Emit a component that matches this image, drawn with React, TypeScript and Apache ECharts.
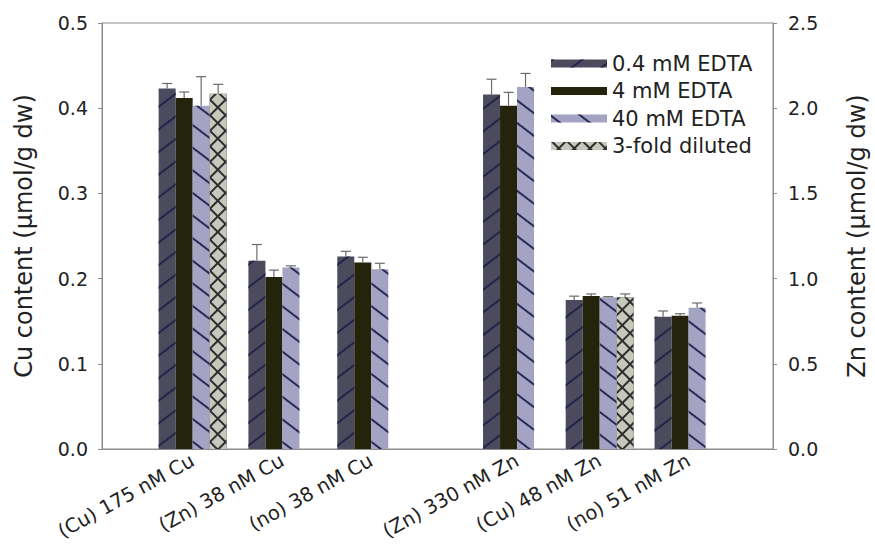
import React, { useEffect, useRef } from "react";
import * as echarts from "echarts";

// ---- data ----
const seriesNames = ["0.4 mM EDTA", "4 mM EDTA", "40 mM EDTA", "3-fold diluted"];

const cuCategories = ["(Cu) 175 nM Cu", "(Zn) 38 nM Cu", "(no) 38 nM Cu"];
const znCategories = ["(Zn) 330 nM Zn", "(Cu) 48 nM Zn", "(no) 51 nM Zn"];
// category positions along the x scale (gap between the Cu and Zn blocks)
const cuPositions = [1.02, 2.03, 3.03];
const znPositions = [4.67, 5.6, 6.6];

// Cu content (µmol/g dw), left axis
const cuEdta04 = [0.423, 0.221, 0.226];
const cuEdta4 = [0.412, 0.202, 0.219];
const cuEdta40 = [0.403, 0.213, 0.211];
const cuDiluted = [0.417, null, null];
const cuEdta04Err = [0.006, 0.019, 0.006];
const cuEdta4Err = [0.007, 0.008, 0.006];
const cuEdta40Err = [0.034, 0.002, 0.007];
const cuDilutedErr = [0.011, null, null];

// Zn content (µmol/g dw), right axis
const znEdta04 = [2.08, 0.875, 0.776];
const znEdta4 = [2.015, 0.898, 0.782];
const znEdta40 = [2.124, 0.89, 0.829];
const znDiluted = [null, 0.89, null];
const znEdta04Err = [0.09, 0.022, 0.034];
const znEdta4Err = [0.078, 0.012, 0.012];
const znEdta40Err = [0.08, 0.004, 0.028];
const znDilutedErr = [null, 0.02, null];

const cuTicks = { min: 0, max: 0.5, interval: 0.1 };
const znTicks = { min: 0, max: 2.5, interval: 0.5 };

// ---- styling ----
const FONT = "DejaVu Sans";
const BAR_W = 17;
const fills = ["#4c4b5e", "#24230c", "#a4a3c3", "#2e2e2e"];
const decals: any[] = [
  { symbol: "rect", symbolSize: 1, dashArrayX: [1, 0], dashArrayY: [1.5, 16], rotation: -0.65, color: "#23234a" },
  null,
  { symbol: "rect", symbolSize: 1, dashArrayX: [1, 0], dashArrayY: [1.5, 16], rotation: 0.65, color: "#2a2a58" },
  { symbol: "rect", symbolSize: 1, dashArrayX: [8.8, 1.2], dashArrayY: [8.8, 1.2], rotation: Math.PI / 4, color: "#c5c8bb" },
];

const cuValues = [cuEdta04, cuEdta4, cuEdta40, cuDiluted];
const cuErrors = [cuEdta04Err, cuEdta4Err, cuEdta40Err, cuDilutedErr];
const znValues = [znEdta04, znEdta4, znEdta40, znDiluted];
const znErrors = [znEdta04Err, znEdta4Err, znEdta40Err, znDilutedErr];

const allPositions = [...cuPositions, ...znPositions];
const allLabels = [...cuCategories, ...znCategories];

function barData(pos: number[], vals: (number | null)[]) {
  const out: number[][] = [];
  vals.forEach((v, i) => {
    if (v != null) out.push([pos[i], v]);
  });
  return out;
}

function errData(pos: number[], vals: (number | null)[][], errs: (number | null)[][]) {
  const out: number[][] = [];
  vals.forEach((sv, k) => {
    sv.forEach((v, i) => {
      const e = errs[k][i];
      if (v != null && e != null) out.push([pos[i], v, e, k]);
    });
  });
  return out;
}

const renderErr = (params: any, api: any) => {
  const x = api.value(0);
  const v = api.value(1);
  const e = api.value(2);
  const k = api.value(3);
  const base = api.coord([x, v]);
  const top = api.coord([x, v + e]);
  const cx = base[0] + (k - 1.5) * BAR_W;
  const st = { stroke: "#6a6a6a", lineWidth: 1.2 };
  return {
    type: "group",
    children: [
      { type: "line", shape: { x1: cx, y1: base[1], x2: cx, y2: top[1] }, style: st },
      { type: "line", shape: { x1: cx - 5, y1: top[1], x2: cx + 5, y2: top[1] }, style: st },
    ],
  };
};

export default function App() {
  const ref = useRef<HTMLDivElement>(null);
  useEffect(() => {
    if (!ref.current) return;
    const chart = echarts.init(ref.current, undefined, { renderer: "svg" });
    const axisLine = { show: true, lineStyle: { color: "#8c8c8c", width: 1 } };
    const series: any[] = [];
    seriesNames.forEach((name, k) => {
      const itemStyle: any = { color: fills[k] };
      if (decals[k]) itemStyle.decal = decals[k];
      series.push({
        name,
        type: "bar",
        xAxisIndex: 0,
        yAxisIndex: 0,
        stack: "col" + k,
        barWidth: BAR_W,
        barGap: "0%",
        itemStyle,
        data: barData(cuPositions, cuValues[k]),
      });
      series.push({
        name,
        type: "bar",
        xAxisIndex: 0,
        yAxisIndex: 1,
        stack: "col" + k,
        barWidth: BAR_W,
        barGap: "0%",
        itemStyle,
        data: barData(znPositions, znValues[k]),
      });
    });
    series.push({
      type: "custom",
      name: "errCu",
      xAxisIndex: 0,
      yAxisIndex: 0,
      z: 5,
      renderItem: renderErr,
      encode: { x: 0, y: 1 },
      data: errData(cuPositions, cuValues, cuErrors),
    });
    series.push({
      type: "custom",
      name: "errZn",
      xAxisIndex: 0,
      yAxisIndex: 1,
      z: 5,
      renderItem: renderErr,
      encode: { x: 0, y: 1 },
      data: errData(znPositions, znValues, znErrors),
    });

    chart.setOption({
      animation: false,
      backgroundColor: "#ffffff",
      textStyle: { fontFamily: FONT },
      grid: {
        left: 102,
        right: 102,
        top: 23,
        bottom: 100,
        show: true,
        borderColor: "#8c8c8c",
        borderWidth: 1,
        outerBoundsMode: "none",
      },
      legend: {
        data: seriesNames,
        orient: "vertical",
        left: 546,
        top: 48,
        itemWidth: 56,
        itemHeight: 8,
        itemGap: 6.5,
        icon: "rect",
        textStyle: { fontFamily: FONT, fontSize: 21, color: "#222" },
      },
      xAxis: {
        type: "value",
        min: 0,
        max: 7.55,
        splitLine: { show: false },
        axisLine,
        axisTick: { show: false },
        axisLabel: {
          customValues: allPositions,
          rotate: 29,
          margin: 10,
          fontFamily: FONT,
          fontSize: 19.5,
          color: "#222",
          formatter: (val: number) => {
            const i = allPositions.findIndex((p) => Math.abs(p - val) < 1e-6);
            return i >= 0 ? allLabels[i] : "";
          },
        },
      },
      yAxis: [
        {
          type: "value",
          position: "left",
          min: cuTicks.min,
          max: cuTicks.max,
          interval: cuTicks.interval,
          name: "Cu content (\u03bcmol/g dw)",
          nameLocation: "middle",
          nameRotate: 90,
          nameGap: 66,
          nameTextStyle: { fontFamily: FONT, fontSize: 24, color: "#222" },
          splitLine: { show: false },
          axisLine,
          axisTick: { show: true, length: 4, lineStyle: { color: "#8c8c8c" } },
          axisLabel: { margin: 14, fontFamily: FONT, fontSize: 19, color: "#222", formatter: (v: number) => v.toFixed(1) },
        },
        {
          type: "value",
          position: "right",
          min: znTicks.min,
          max: znTicks.max,
          interval: znTicks.interval,
          name: "Zn content (\u03bcmol/g dw)",
          nameLocation: "middle",
          nameRotate: 90,
          nameGap: 72,
          nameTextStyle: { fontFamily: FONT, fontSize: 24, color: "#222" },
          splitLine: { show: false },
          axisLine,
          axisTick: { show: true, length: 4, lineStyle: { color: "#8c8c8c" } },
          axisLabel: { margin: 15, fontFamily: FONT, fontSize: 19, color: "#222", formatter: (v: number) => v.toFixed(1) },
        },
      ],
      series,
    });
    return () => chart.dispose();
  }, []);
  return <div ref={ref} style={{ position: "fixed", left: 0, top: 0, width: 875, height: 549 }} />;
}
